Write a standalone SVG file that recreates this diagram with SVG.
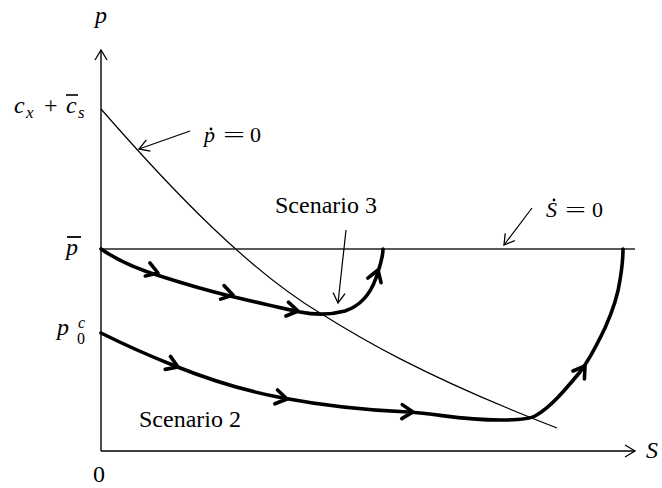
<svg xmlns="http://www.w3.org/2000/svg" xmlns:xlink="http://www.w3.org/1999/xlink" width="662" height="488" viewBox="0 0 662 488">
<style>
.thin{fill:none;stroke:#000;stroke-width:1.2}
.axis{fill:none;stroke:#000;stroke-width:1.4}
.thick{fill:none;stroke:#000;stroke-width:3.6;stroke-linecap:round;stroke-linejoin:round}
text{fill:#000}
.it{font-style:italic}
.serif{font-family:"Liberation Serif","Times New Roman",serif}
</style>
<defs>
<path id="chev" d="M-11,-7 L0,0 L-11,7" fill="none" stroke="#000" stroke-width="3.6" stroke-linecap="round" stroke-linejoin="round"/>
<path id="tchev" d="M-10,-6 L0,0 L-10,6" fill="none" stroke="#000" stroke-width="1.3"/>
</defs>
<g id="axes">
<line class="axis" x1="101" y1="451" x2="101" y2="50"/>
<line class="axis" x1="101" y1="451" x2="635" y2="451"/>
<use xlink:href="#tchev" transform="translate(101,50) rotate(-90)"/>
<use xlink:href="#tchev" transform="translate(635,451)"/>
</g>
<g id="labels">
<text class="it serif" x="95" y="23" font-size="24">p</text>
<text class="it serif" x="14" y="113" font-size="24">c</text>
<text class="it serif" x="26" y="118" font-size="17">x</text>
<text class="serif" x="44" y="113" font-size="24">+</text>
<text class="it serif" x="66" y="113" font-size="24">c</text>
<line x1="66" y1="95" x2="78" y2="95" stroke="#000" stroke-width="1.6"/>
<text class="it serif" x="78" y="118" font-size="17">s</text>
<text class="it serif" x="66" y="255" font-size="24">p</text>
<line x1="67" y1="237" x2="81" y2="237" stroke="#000" stroke-width="1.8"/>
<text class="it serif" x="57" y="335" font-size="24">p</text>
<text class="serif" x="77" y="344" font-size="16">0</text>
<text class="it serif" x="78" y="328" font-size="16">c</text>
<text class="serif" x="93" y="482" font-size="24">0</text>
<text class="it serif" x="646" y="458" font-size="24">S</text>
</g>
<g id="pdot">
<path class="thin" d="M101,109 C176,195 250,271 320,313 C355,335 420,375 557,428"/>
<text class="it serif" x="204" y="142" font-size="22">p</text>
<circle cx="211" cy="129" r="1.4" fill="#000"/>
<text class="serif" x="223" y="142" font-size="22" textLength="22" lengthAdjust="spacingAndGlyphs">=</text>
<text class="serif" x="250" y="142" font-size="22">0</text>
</g>
<g id="sdot">
<line x1="101" y1="249" x2="635" y2="249" stroke="#222" stroke-width="1.5"/>
<text class="it serif" x="546" y="217" font-size="22">S</text>
<circle cx="554" cy="200" r="1.4" fill="#000"/>
<text class="serif" x="565" y="217" font-size="22" textLength="21" lengthAdjust="spacingAndGlyphs">=</text>
<text class="serif" x="592" y="217" font-size="22">0</text>
</g>
<g id="scenario3">
<path class="thick" d="M101,249 C120,262 140,270 160,276 C185,284 205,290 230,296 C255,302 280,308 300,312 C315,315 330,315 345,311 C360,306 370,295 376,278 C380,266 383,258 383,249"/>
<use xlink:href="#chev" transform="translate(158,273) rotate(19)"/>
<use xlink:href="#chev" transform="translate(233,295) rotate(14)"/>
<use xlink:href="#chev" transform="translate(298,311) rotate(10)"/>
<use xlink:href="#chev" transform="translate(378,270) rotate(-71)"/>
<text class="serif" x="275" y="213" font-size="24">Scenario 3</text>
</g>
<g id="scenario2">
<path class="thick" d="M101,333 C125,345 150,356 175,366 C210,380 245,391 283,398 C320,405 360,410 408,412 C440,414 460,420 500,420 C520,420 530,419 535,416 C550,408 565,390 580,372 C592,356 598,342 605,328 C613,310 618,295 620,280 C622,268 623,258 623,249"/>
<use xlink:href="#chev" transform="translate(178,367) rotate(22)"/>
<use xlink:href="#chev" transform="translate(287,399) rotate(11)"/>
<use xlink:href="#chev" transform="translate(413,412) rotate(2)"/>
<use xlink:href="#chev" transform="translate(585,366) rotate(-55)"/>
<text class="serif" x="139" y="427" font-size="24">Scenario 2</text>
</g>
<g id="connectors">
<line class="thin" x1="190" y1="131" x2="139" y2="149"/>
<use xlink:href="#tchev" transform="translate(139,149) rotate(160)"/>
<line class="thin" x1="532" y1="208" x2="504" y2="245"/>
<use xlink:href="#tchev" transform="translate(504,245) rotate(127)"/>
<line class="thin" x1="346" y1="230" x2="338" y2="303"/>
<use xlink:href="#tchev" transform="translate(338,303) rotate(96)"/>
</g>
</svg>
